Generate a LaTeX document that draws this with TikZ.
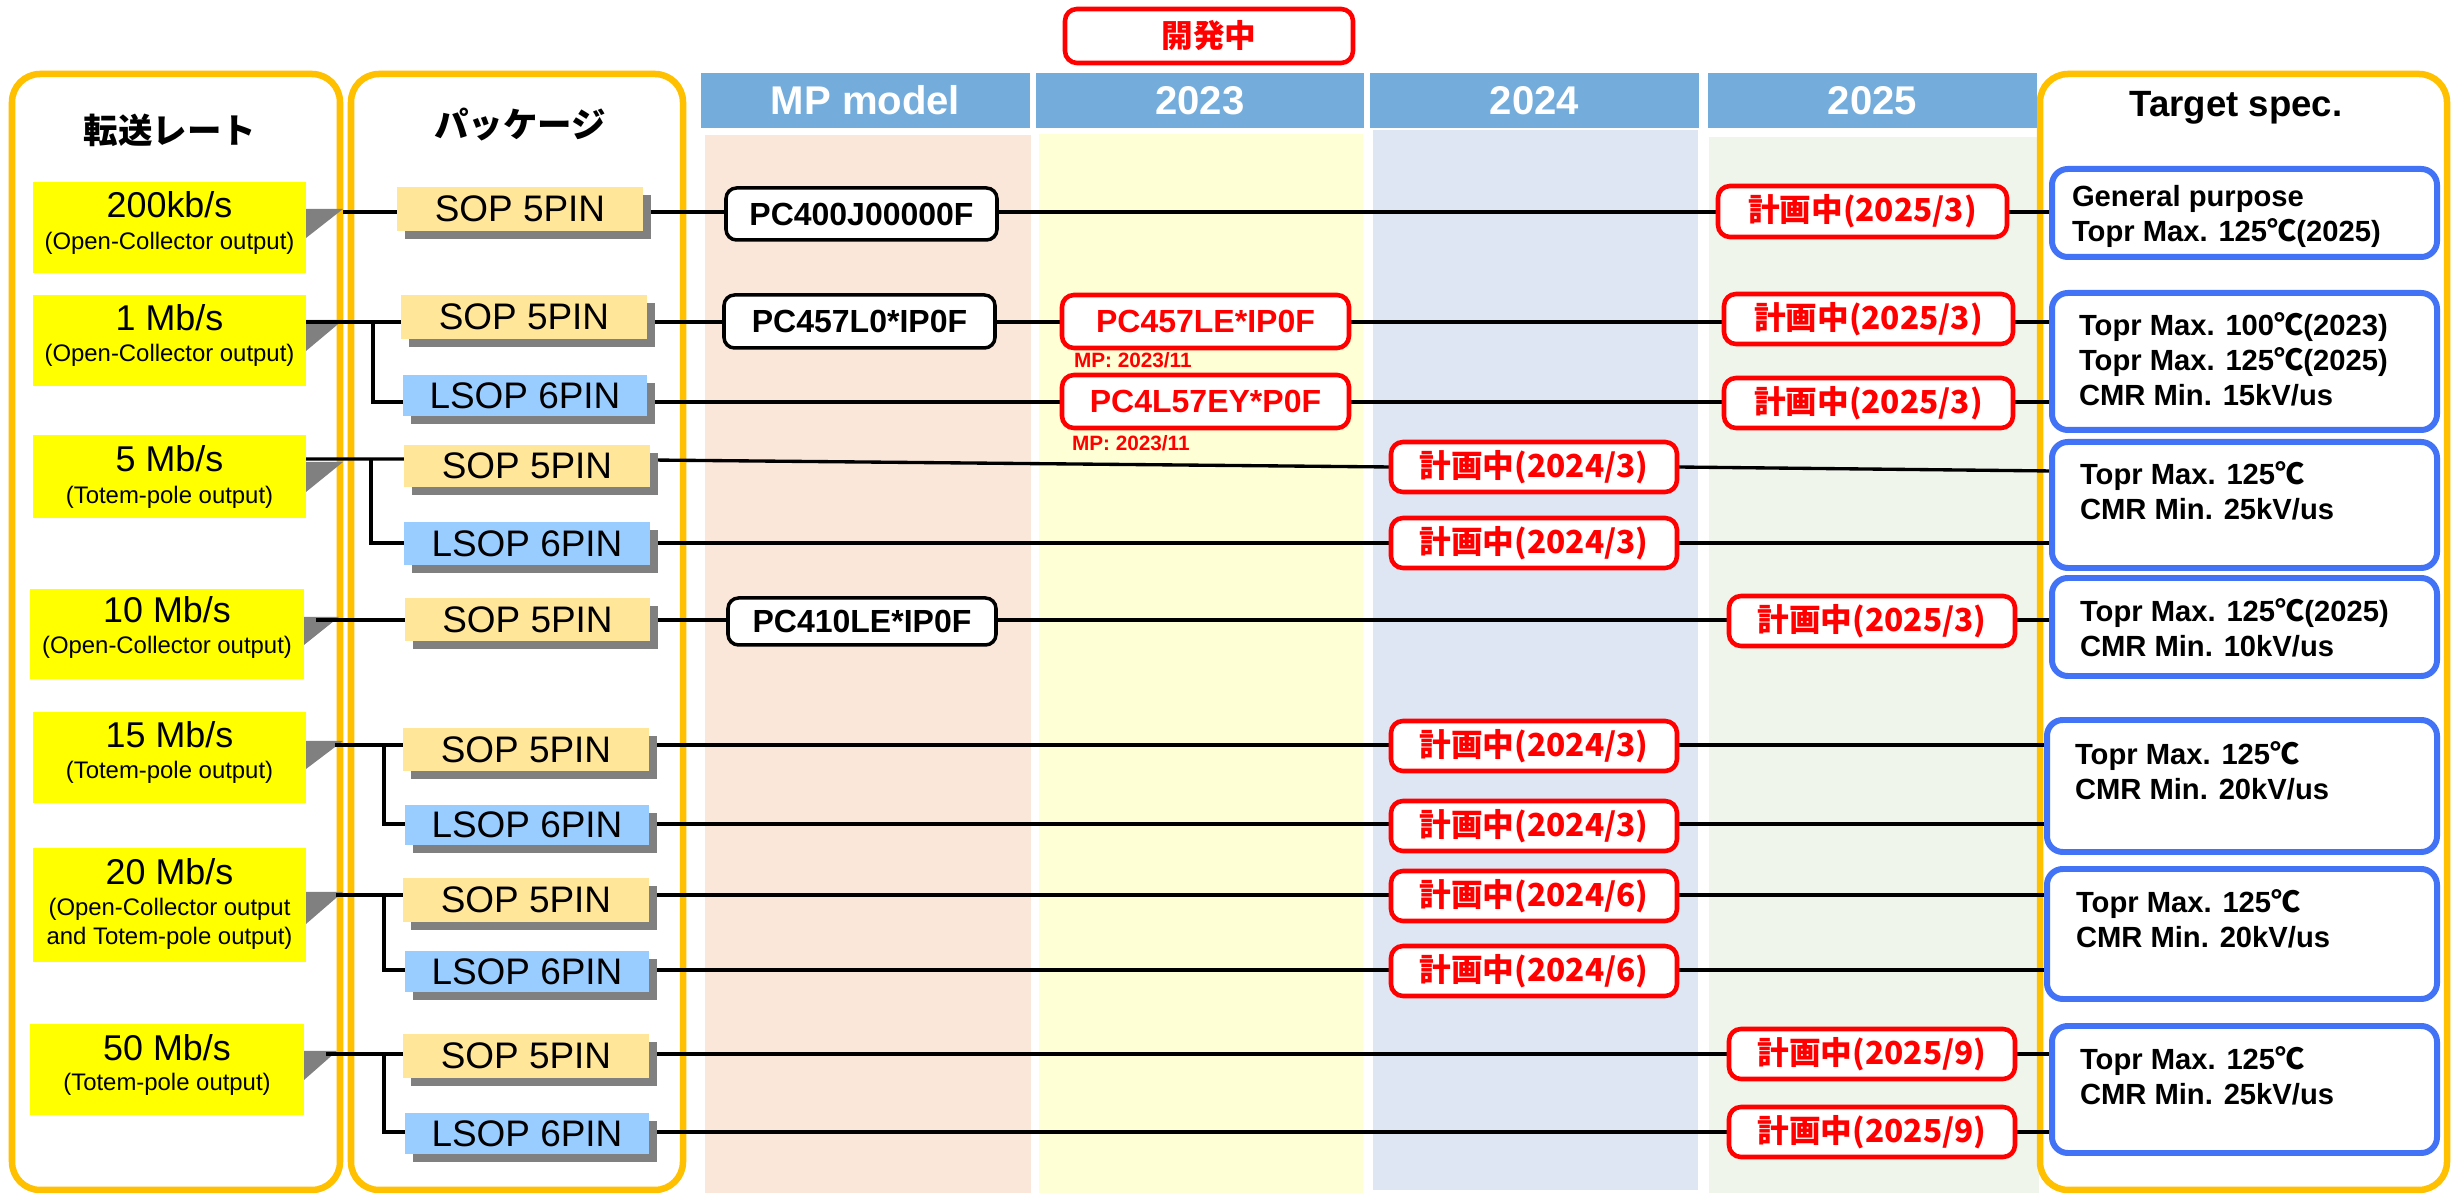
\documentclass[tikz,border=0pt]{standalone}
\usepackage{fontspec}
\setmainfont{Liberation Sans}
\newfontfamily\cjk{Noto Sans CJK JP}
\usetikzlibrary{shadows}
\pgfdeclarelayer{back}
\pgfdeclarelayer{lines}
\pgfsetlayers{back,lines,main}
\definecolor{orng}{HTML}{FFC000}
\definecolor{hdr}{HTML}{74ADDB}
\definecolor{bgmp}{HTML}{FBE6DA}
\definecolor{bgtt}{HTML}{FFFFD5}
\definecolor{bgtf}{HTML}{DFE6F3}
\definecolor{bgfv}{HTML}{F0F5EB}
\definecolor{sopc}{HTML}{FFE699}
\definecolor{lsopc}{HTML}{99CCFF}
\definecolor{specb}{HTML}{4272F5}
\definecolor{shad}{HTML}{808080}
\definecolor{ylw}{HTML}{FFFF00}
\definecolor{redc}{HTML}{FF0000}
\tikzset{
  every node/.style={inner sep=0pt, outer sep=0pt},
  bb/.style n args={4}{at={({(#1+#3)/2},{(#2+#4)/2})},
     minimum width={(#3-#1)*0.01cm}, minimum height={(#4-#2)*0.01cm}},
  conn/.style={line width=0.95pt, black},
  panel/.style={draw=orng, line width=1.85pt, rounded corners=8pt},
  hdrbox/.style={fill=hdr, text=white, font=\fontsize{11.4}{13}\selectfont\bfseries},
  ratebox/.style={fill=ylw},
  rmain/.style={font=\fontsize{10.2}{12}\selectfont},
  rsub/.style={font=\fontsize{6.8}{8.3}\selectfont, align=center},
  tri/.style={fill=shad},
  sopbox/.style={fill=sopc, font=\fontsize{10.5}{12}\selectfont,
     drop shadow={shadow xshift=0.08cm, shadow yshift=-0.08cm, fill=shad, opacity=1}},
  lsopbox/.style={sopbox, fill=lsopc},
  mpbox/.style={draw=black, fill=white, line width=1pt, rounded corners=3pt, font=\fontsize{9.1}{11}\selectfont\bfseries},
  devbox/.style={draw=redc, fill=white, line width=1.3pt, rounded corners=3.4pt, text=redc, font=\fontsize{9.1}{11}\selectfont\bfseries},
  planbox/.style={devbox, font=\fontsize{9}{11}\selectfont\cjk\bfseries},
  mplabel/.style={text=redc, font=\fontsize{5.9}{7}\selectfont\bfseries, anchor=west},
  specbox/.style={draw=specb, fill=white, line width=1.7pt, rounded corners=4.5pt},
  spectext/.style={font=\fontsize{8.3}{9.9}\selectfont\bfseries, align=left, anchor=west},
  jtitle/.style={font=\fontsize{9.8}{12}\selectfont\cjk\bfseries},
  etitle/.style={font=\fontsize{10.4}{12}\selectfont\bfseries},
}
\begin{document}
\begin{tikzpicture}[x=0.01cm, y=-0.01cm]
\useasboundingbox (0,0) rectangle (2456,1195);
\begin{pgfonlayer}{back}
  \fill[white] (0,0) rectangle (2456,1195);
  \fill[bgmp] (705,135) rectangle (1031,1193);
  \fill[bgtt] (1039,134) rectangle (1363,1193);
  \fill[bgtf] (1373,130) rectangle (1698,1190);
  \fill[bgfv] (1709,137) rectangle (2039,1193);
  \draw[panel] (12,74) rectangle (340,1190);
  \draw[panel] (351,74) rectangle (683,1190);
  \draw[panel] (2040,74) rectangle (2447,1190);
\end{pgfonlayer}

% headers
\node[hdrbox, bb={701}{73}{1030}{128}] (hMP) {MP model};
\node[hdrbox, bb={1036}{73}{1364}{128}] (hA) {2023};
\node[hdrbox, bb={1370}{73}{1699}{128}] (hB) {2024};
\node[hdrbox, bb={1708}{73}{2037}{128}] (hC) {2025};
\node[planbox, bb={1065}{9}{1353}{63}] (dev) {開発中};

% titles
\node[jtitle] (t1) at (170,130) {転送レート};
\node[jtitle] (t2) at (520,125) {パッケージ};
\node[etitle] (t3) at (2236,108) {Target spec.};

% rate boxes
\node[ratebox, bb={33}{182}{306}{273}] (r1) {};
\node[rmain] (r1m) at (169.5,205) {200kb/s};
\node[rsub] (r1s) at (169.5,243) {(Open-Collector output)};
\node[ratebox, bb={33}{295}{306}{386}] (r2) {};
\node[rmain] (r2m) at (169.5,318) {1 Mb/s};
\node[rsub] (r2s) at (169.5,355) {(Open-Collector output)};
\node[ratebox, bb={33}{435}{306}{518}] (r3) {};
\node[rmain] (r3m) at (169.5,459) {5 Mb/s};
\node[rsub] (r3s) at (169.5,497) {(Totem-pole output)};
\node[ratebox, bb={30}{589}{304}{679}] (r4) {};
\node[rmain] (r4m) at (167,610) {10 Mb/s};
\node[rsub] (r4s) at (167,647) {(Open-Collector output)};
\node[ratebox, bb={33}{712}{306}{803}] (r5) {};
\node[rmain] (r5m) at (169.5,735) {15 Mb/s};
\node[rsub] (r5s) at (169.5,772) {(Totem-pole output)};
\node[ratebox, bb={33}{848}{306}{962}] (r6) {};
\node[rmain] (r6m) at (169.5,872) {20 Mb/s};
\node[rsub] (r6s) at (169.5,923.5) {(Open-Collector output\\and Totem-pole output)};
\node[ratebox, bb={30}{1024}{304}{1115}] (r7) {};
\node[rmain] (r7m) at (167,1048) {50 Mb/s};
\node[rsub] (r7s) at (167,1084) {(Totem-pole output)};

% package boxes
\node[sopbox, bb={397}{187}{643}{231}] (pA) {SOP 5PIN};
\node[sopbox, bb={401}{295}{647}{339}] (pB) {SOP 5PIN};
\node[lsopbox, bb={403}{375}{647}{416}] (pC) {LSOP 6PIN};
\node[sopbox, bb={404}{445}{650}{487}] (pD) {SOP 5PIN};
\node[lsopbox, bb={404}{522}{650}{565}] (pE) {LSOP 6PIN};
\node[sopbox, bb={405}{598}{650}{641}] (pF) {SOP 5PIN};
\node[sopbox, bb={403}{728}{649}{771}] (pG) {SOP 5PIN};
\node[lsopbox, bb={405}{805}{649}{845}] (pH) {LSOP 6PIN};
\node[sopbox, bb={403}{878}{649}{922}] (pI) {SOP 5PIN};
\node[lsopbox, bb={405}{951}{649}{992}] (pJ) {LSOP 6PIN};
\node[sopbox, bb={403}{1034}{649}{1078}] (pK) {SOP 5PIN};
\node[lsopbox, bb={405}{1113}{649}{1154}] (pL) {LSOP 6PIN};

% MP model boxes
\node[mpbox, bb={726}{188}{997}{240}] (mA) {PC400J00000F};
\node[mpbox, bb={724}{295}{995}{348}] (mB) {PC457L0*IP0F};
\node[mpbox, bb={728}{598}{996}{645}] (mF) {PC410LE*IP0F};

% 2023 boxes
\node[devbox, bb={1062}{295}{1349}{348}] (dB) {PC457LE*IP0F};
\node[mplabel] (mpl1) at (1074,360) {MP: 2023/11};
\node[devbox, bb={1062}{375}{1349}{428}] (dC) {PC4L57EY*P0F};
\node[mplabel] (mpl2) at (1072,443) {MP: 2023/11};

% plan boxes
\node[planbox, bb={1718}{186}{2007}{237}] (plA) {計画中(2025/3)};
\node[planbox, bb={1724}{294}{2013}{344}] (plB) {計画中(2025/3)};
\node[planbox, bb={1724}{378}{2013}{428}] (plC) {計画中(2025/3)};
\node[planbox, bb={1391}{442}{1677}{492}] (plD) {計画中(2024/3)};
\node[planbox, bb={1391}{518}{1677}{568}] (plE) {計画中(2024/3)};
\node[planbox, bb={1729}{596}{2015}{646}] (plF) {計画中(2025/3)};
\node[planbox, bb={1391}{721}{1677}{771}] (plG) {計画中(2024/3)};
\node[planbox, bb={1391}{801}{1677}{851}] (plH) {計画中(2024/3)};
\node[planbox, bb={1391}{871}{1677}{921}] (plI) {計画中(2024/6)};
\node[planbox, bb={1391}{946}{1677}{996}] (plJ) {計画中(2024/6)};
\node[planbox, bb={1729}{1029}{2015}{1079}] (plK) {計画中(2025/9)};
\node[planbox, bb={1729}{1107}{2015}{1157}] (plL) {計画中(2025/9)};

% spec boxes
\node[specbox, bb={2052}{169}{2437}{257}] (s1) {};
\node[specbox, bb={2052}{293}{2437}{430}] (s2) {};
\node[specbox, bb={2052}{442}{2437}{568}] (s3) {};
\node[specbox, bb={2052}{578}{2437}{676}] (s4) {};
\node[specbox, bb={2047}{720}{2437}{852}] (s5) {};
\node[specbox, bb={2047}{869}{2437}{999}] (s6) {};
\node[specbox, bb={2052}{1026}{2437}{1153}] (s7) {};
\node[spectext] (s1t) at (2072,216.5) {General purpose\\Topr Max. 125{\cjk ℃}(2025)};
\node[spectext] (s2t) at (2079,359) {Topr Max. 100{\cjk ℃}(2023)\\Topr Max. 125{\cjk ℃}(2025)\\CMR Min. 15kV/us};
\node[spectext] (s3t) at (2080,491) {Topr Max. 125{\cjk ℃}\\CMR Min. 25kV/us};
\node[spectext] (s4t) at (2080,628) {Topr Max. 125{\cjk ℃}(2025)\\CMR Min. 10kV/us};
\node[spectext] (s5t) at (2075,771) {Topr Max. 125{\cjk ℃}\\CMR Min. 20kV/us};
\node[spectext] (s6t) at (2076,919) {Topr Max. 125{\cjk ℃}\\CMR Min. 20kV/us};
\node[spectext] (s7t) at (2080,1076) {Topr Max. 125{\cjk ℃}\\CMR Min. 25kV/us};

% row coordinates
\coordinate (yA) at (0,212);
\coordinate (yB) at (0,322);
\coordinate (yC) at (0,402);
\coordinate (yD) at (0,459);
\coordinate (yDb) at (0,460);
\coordinate (yDc) at (0,471);
\coordinate (yE) at (0,543);
\coordinate (yF) at (0,620);
\coordinate (yG) at (0,745);
\coordinate (yH) at (0,824);
\coordinate (yI) at (0,895);
\coordinate (yJ) at (0,970);
\coordinate (yK) at (0,1054);
\coordinate (yL) at (0,1132);
\coordinate (tA) at (343,212);
\coordinate (tF) at (316,620);
\coordinate (tG) at (335,745);
\coordinate (tI) at (336,895);
\coordinate (tK) at (326,1054);
\coordinate (bBC) at (373,0);
\coordinate (bDE) at (371,0);
\coordinate (bGH) at (384,0);
\coordinate (bIJ) at (384,0);
\coordinate (bKL) at (384,0);

\begin{pgfonlayer}{lines}
  % gray callout triangles
  \fill[tri] (r1.east |- 0,209) -- ++(37,0) -- ++(-37,29) -- cycle;
  \fill[tri] (r2.east |- 0,320) -- ++(37,0) -- ++(-37,31) -- cycle;
  \fill[tri] (r3.east |- 0,462) -- ++(37,0) -- ++(-37,30) -- cycle;
  \fill[tri] (r4.east |- 0,617) -- ++(35,0) -- ++(-35,28) -- cycle;
  \fill[tri] (r5.east |- 0,741) -- ++(37,0) -- ++(-37,28) -- cycle;
  \fill[tri] (r6.east |- 0,892) -- ++(37,0) -- ++(-37,32) -- cycle;
  \fill[tri] (r7.east |- 0,1051) -- ++(33,0) -- ++(-33,29) -- cycle;
  % row A
  \draw[conn] (tA) -- (pA.west|-yA) (pA.east|-yA) -- (mA.west|-yA)
              (mA.east|-yA) -- (plA.west|-yA) (plA.east|-yA) -- (s1.west|-yA);
  % rows B, C
  \draw[conn] (r2.east|-yB) -- (pB.west|-yB) (pB.east|-yB) -- (mB.west|-yB)
              (mB.east|-yB) -- (dB.west|-yB) (dB.east|-yB) -- (plB.west|-yB)
              (plB.east|-yB) -- (s2.west|-yB);
  \draw[conn] (bBC|-yB) -- (bBC|-yC) -- (pC.west|-yC);
  \draw[conn] (pC.east|-yC) -- (dC.west|-yC) (dC.east|-yC) -- (plC.west|-yC)
              (plC.east|-yC) -- (s2.west|-yC);
  % rows D, E
  \draw[conn] (r3.east|-yD) -- (pD.west|-yD) (pD.east|-yDb) -- (plD.west)
              (plD.east) -- (s3.west|-yDc);
  \draw[conn] (bDE|-yD) -- (bDE|-yE) -- (pE.west|-yE);
  \draw[conn] (pE.east|-yE) -- (plE.west|-yE) (plE.east|-yE) -- (s3.west|-yE);
  % row F
  \draw[conn] (tF) -- (pF.west|-yF) (pF.east|-yF) -- (mF.west|-yF)
              (mF.east|-yF) -- (plF.west|-yF) (plF.east|-yF) -- (s4.west|-yF);
  % rows G, H
  \draw[conn] (tG) -- (pG.west|-yG) (pG.east|-yG) -- (plG.west|-yG)
              (plG.east|-yG) -- (s5.west|-yG);
  \draw[conn] (bGH|-yG) -- (bGH|-yH) -- (pH.west|-yH);
  \draw[conn] (pH.east|-yH) -- (plH.west|-yH) (plH.east|-yH) -- (s5.west|-yH);
  % rows I, J
  \draw[conn] (tI) -- (pI.west|-yI) (pI.east|-yI) -- (plI.west|-yI)
              (plI.east|-yI) -- (s6.west|-yI);
  \draw[conn] (bIJ|-yI) -- (bIJ|-yJ) -- (pJ.west|-yJ);
  \draw[conn] (pJ.east|-yJ) -- (plJ.west|-yJ) (plJ.east|-yJ) -- (s6.west|-yJ);
  % rows K, L
  \draw[conn] (tK) -- (pK.west|-yK) (pK.east|-yK) -- (plK.west|-yK)
              (plK.east|-yK) -- (s7.west|-yK);
  \draw[conn] (bKL|-yK) -- (bKL|-yL) -- (pL.west|-yL);
  \draw[conn] (pL.east|-yL) -- (plL.west|-yL) (plL.east|-yL) -- (s7.west|-yL);
\end{pgfonlayer}
\end{tikzpicture}
\end{document}
